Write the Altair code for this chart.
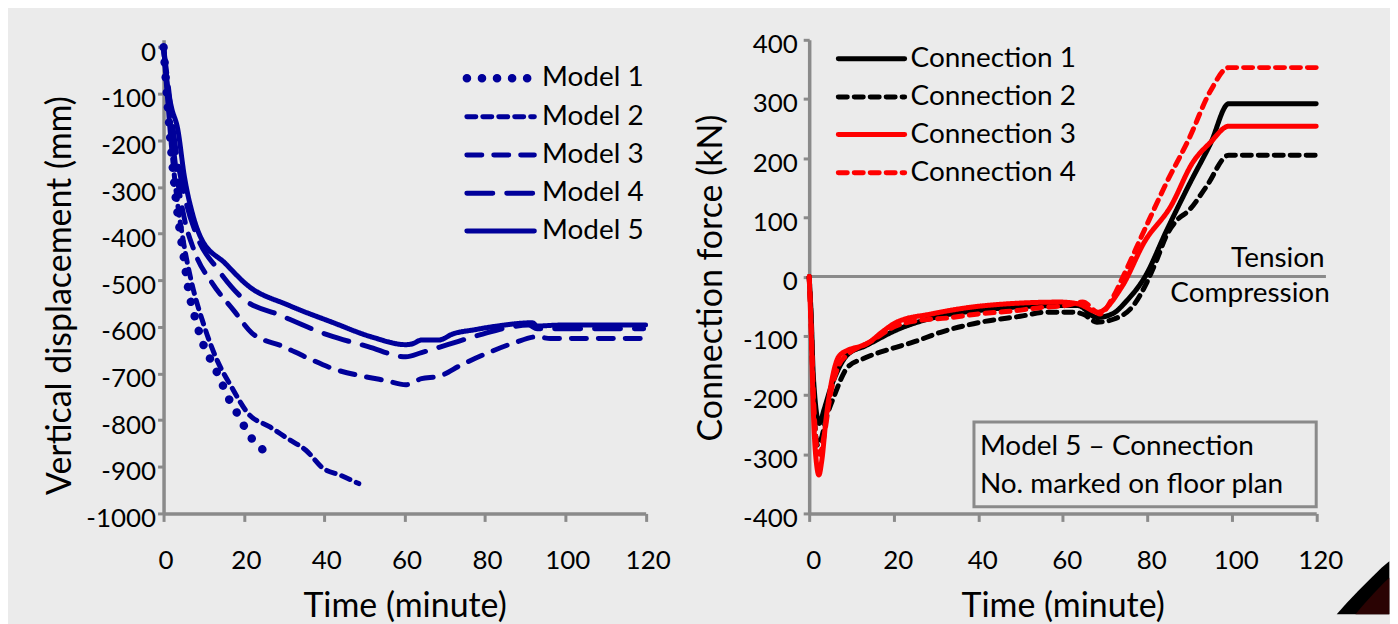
import altair as alt
import pandas as pd

BG = "#ebebeb"
AX = "#8a8a8a"
BLUE = "#00009a"
FONT = "Lato"

# ---------------- Left panel: vertical displacement ----------------
m1_t = [0, 1, 2, 3, 4, 5, 6, 8, 10, 12, 14, 16, 18, 20, 22, 24, 27]
m1_v = [0, -120, -230, -320, -390, -448, -510, -585, -640, -675, -710, -750, -780, -812, -840, -858, -878]

m2_t = [0, 1, 2, 3, 5, 7, 10, 13, 17, 21, 26.6, 31, 35.5, 39.7, 44, 48.6]
m2_v = [0, -110, -215, -300, -420, -505, -595, -665, -730, -785, -815, -840, -865, -903, -918, -936]

m3_t = [0, 1, 2, 3, 5, 7.7, 12.2, 17.6, 22, 29.8, 36, 42, 49.8, 55.3, 60.3, 64.2, 68.5, 74.2, 80.9, 87.3, 93, 96.3, 119]
m3_v = [0, -90, -180, -255, -360, -438, -507, -566, -613, -642, -667, -689, -706, -715, -724, -711, -706, -681, -655, -634, -621, -625, -625]

m4_t = [0, 1, 2, 3, 5, 8.7, 13.2, 19.9, 28.8, 40.9, 50.9, 60.3, 64.2, 70.7, 78.7, 86.4, 90.8, 93, 119.5]
m4_v = [0, -70, -145, -215, -310, -413, -473, -540, -574, -617, -642, -664, -655, -638, -617, -600, -596, -604, -604]

m5_t = [0, 1, 2, 3.5, 5.2, 7.2, 9.2, 15.4, 21.1, 31, 42, 52, 60.3, 62, 64.2, 68.5, 72, 77.4, 83.1, 91.8, 93, 98.5, 120]
m5_v = [0, -85, -130, -174, -278, -357, -407, -464, -512, -553, -590, -622, -638, -636, -628, -628, -615, -606, -598, -591, -598, -596, -596]

model_names = ["Model 1", "Model 2", "Model 3", "Model 4", "Model 5"]
model_t = [m1_t, m2_t, m3_t, m4_t, m5_t]
model_v = [m1_v, m2_v, m3_v, m4_v, m5_v]
model_dash = [[0.1, 15], [9, 7], [15, 12], [26, 14], [1, 0]]
model_width = [8.5, 5, 5, 5, 5]

# legend layout (data units of the left panel)
legL_x1, legL_x2, legL_tx = 75.5, 92.3, 94.2
legL_rows = [-66.5, -149, -231, -313.4, -394.2]

# ---------------- Right panel: connection force ----------------
c1_t = [0, 0.5, 1, 2.4, 3.5, 5, 6, 9.2, 13.3, 20.7, 29, 41.6, 58.4, 63.6, 68.1, 72, 75, 79.5, 84.6, 89.9, 95, 99.3, 120]
c1_v = [0, -70, -170, -248, -225, -190, -171, -131, -117, -90, -70, -56, -49, -49, -69, -62, -42, 0, 78, 155, 225, 292, 292]

c2_t = [0, 0.5, 1, 2, 2.8, 4, 6, 9.1, 13, 19.3, 24.9, 31.1, 40.6, 50, 56.3, 62.5, 65, 68.1, 72, 76.7, 79.9, 82.3, 84.6, 87, 89.9, 94, 99.3, 120]
c2_v = [0, -80, -200, -285, -275, -240, -200, -153, -138, -122, -110, -94, -77, -67, -60, -60, -64, -77, -72, -49, -10, 29, 70, 95, 112, 152, 205, 205]

c3_t = [0, 0.5, 1, 1.8, 2.3, 3, 4, 5.5, 7, 9.2, 12, 14.4, 17, 20.7, 29, 41.6, 59.4, 63.6, 68.4, 74.1, 79.3, 85.6, 90.8, 95, 99.3, 120]
c3_v = [0, -100, -230, -320, -335, -310, -240, -170, -135, -124, -118, -110, -95, -77, -63, -49, -43, -46, -60, -16, 58, 119, 193, 227, 254, 254]

c4_t = [0, 0.5, 1, 2, 2.5, 3.5, 5, 7, 9.2, 14, 20.7, 26, 32.7, 40, 48.3, 55, 60.5, 64.7, 68.9, 71.5, 74.1, 79.3, 84.6, 89.9, 95, 99.3, 120]
c4_v = [0, -90, -200, -295, -300, -270, -200, -150, -131, -112, -83, -74, -70, -63, -58, -52, -49, -43, -63, -40, -3, 78, 159, 233, 314, 353, 353]

conn_names = ["Connection 1", "Connection 2", "Connection 3", "Connection 4"]
conn_t = [c1_t, c2_t, c3_t, c4_t]
conn_v = [c1_v, c2_v, c3_v, c4_v]
conn_color = ["#000000", "#000000", "#ff0000", "#ff0000"]
conn_dash = [[1, 0], [9, 7], [1, 0], [9, 7]]
draw_order = [1, 0, 3, 2]

legR_x1, legR_x2, legR_tx = 6.9, 22.6, 24.0
legR_rows = [367.8, 303.4, 239.9, 175.3]

box_x = [39.0, 120.0]
box_y = [-245.5, -388.6]
box_lines = ["Model 5 \u2013 Connection", "No. marked on floor plan"]
box_text_x = 40.4
box_text_y = [-302, -366]

zero_line_x = [0, 122.3]
tension_pos = (122.0, 16)
compression_pos = (123.2, -43)

x_ticks = [0, 20, 40, 60, 80, 100, 120]

LABEL_EXPR = "'' + datum.value"

# slide decoration shapes (unit-square symbol paths)
DECO_OUTER = ("M -1.15 1 L -0.75 0.55 L -0.3 0.08 L 0.2 -0.42 L 0.65 -0.86 "
              "L 0.96 -1.12 L 0.96 1 Z")
DECO_INNER = ("M -0.396 1 L -0.104 0.656 L 0.312 0.192 L 0.744 -0.256 L 0.96 -0.464 "
              "L 0.96 1 Z")


def x_axis(offset):
    return alt.Axis(values=x_ticks, title="Time (minute)", grid=False, labelExpr=LABEL_EXPR,
                    labelFont=FONT, labelFontSize=26, labelColor="black",
                    labelBaseline="alphabetic", labelPadding=47, labelOffset=offset,
                    labelFlush=False, labelOverlap=False,
                    tickSize=8, tickColor=AX, tickWidth=3,
                    domainColor=AX, domainWidth=3.5,
                    titleFont=FONT, titleFontSize=34, titleFontWeight="normal",
                    titleColor="black", titleBaseline="alphabetic", titleY=103)


def y_axis(values, title, pad, tx, ty):
    return alt.Axis(values=values, title=title, grid=False, labelExpr=LABEL_EXPR,
                    labelFont=FONT, labelFontSize=26, labelColor="black",
                    labelPadding=pad, labelOffset=5, labelFlush=False, labelOverlap=False,
                    tickSize=6, tickColor=AX, tickWidth=3,
                    domainColor=AX, domainWidth=3.5,
                    titleFont=FONT, titleFontSize=34, titleFontWeight="normal",
                    titleColor="black", titleBaseline="alphabetic", titleAlign="center",
                    titleX=tx, titleY=ty)


xL = alt.Scale(domain=[0, 120], nice=False, zero=False)
yL = alt.Scale(domain=[-1000, 16], nice=False, zero=False)
xR = alt.Scale(domain=[0, 120], nice=False, zero=False)
yR = alt.Scale(domain=[-400, 400], nice=False, zero=False)

# ---------- left layers ----------
left_layers = []
for i, name in enumerate(model_names):
    df = pd.DataFrame({"t": model_t[i], "v": model_v[i]})
    enc = dict(x=alt.X("t:Q", scale=xL, axis=x_axis(2)),
               y=alt.Y("v:Q", scale=yL,
                       axis=y_axis(list(range(-1000, 1, 100)), "Vertical displacement (mm)", 2, -93, 256)))
    left_layers.append(
        alt.Chart(df).mark_line(color=BLUE, strokeWidth=model_width[i], strokeDash=model_dash[i],
                                strokeCap="round", strokeJoin="round", interpolate="monotone")
        .encode(**enc)
    )
    ldf = pd.DataFrame({"x1": [legL_x1], "x2": [legL_x2], "y": [legL_rows[i]]})
    left_layers.append(
        alt.Chart(ldf).mark_rule(color=BLUE, strokeWidth=model_width[i], strokeDash=model_dash[i],
                                 strokeCap="round")
        .encode(x=alt.X("x1:Q", scale=xL), x2="x2:Q", y=alt.Y("y:Q", scale=yL))
    )
legL_df = pd.DataFrame({"x": [legL_tx] * 5, "y": legL_rows, "label": model_names})
left_layers.append(
    alt.Chart(legL_df).mark_text(align="left", baseline="middle", font=FONT, fontSize=28, color="black")
    .encode(x=alt.X("x:Q", scale=xL), y=alt.Y("y:Q", scale=yL), text="label:N")
)
left = alt.layer(*left_layers).properties(width=483.5, height=475)

# ---------- right layers ----------
right_layers = []
zdf = pd.DataFrame({"x1": [zero_line_x[0]], "x2": [zero_line_x[1]], "y": [0]})
right_layers.append(
    alt.Chart(zdf).mark_rule(color=AX, strokeWidth=3)
    .encode(x=alt.X("x1:Q", scale=xR, axis=x_axis(4)), x2="x2:Q",
            y=alt.Y("y:Q", scale=yR,
                    axis=y_axis(list(range(-400, 401, 100)), "Connection force (kN)", 6, -87.7, 238.5)))
)
for i in draw_order:
    df = pd.DataFrame({"t": conn_t[i], "v": conn_v[i]})
    right_layers.append(
        alt.Chart(df).mark_line(color=conn_color[i], strokeWidth=5, strokeDash=conn_dash[i],
                                strokeCap="round", strokeJoin="round", interpolate="monotone")
        .encode(x=alt.X("t:Q", scale=xR), y=alt.Y("v:Q", scale=yR))
    )
for i in range(4):
    ldf = pd.DataFrame({"x1": [legR_x1], "x2": [legR_x2], "y": [legR_rows[i]]})
    right_layers.append(
        alt.Chart(ldf).mark_rule(color=conn_color[i], strokeWidth=5, strokeDash=conn_dash[i],
                                 strokeCap="round")
        .encode(x=alt.X("x1:Q", scale=xR), x2="x2:Q", y=alt.Y("y:Q", scale=yR))
    )
legR_df = pd.DataFrame({"x": [legR_tx] * 4, "y": legR_rows, "label": conn_names})
right_layers.append(
    alt.Chart(legR_df).mark_text(align="left", baseline="middle", font=FONT, fontSize=28, color="black")
    .encode(x=alt.X("x:Q", scale=xR), y=alt.Y("y:Q", scale=yR), text="label:N")
)
tc_df = pd.DataFrame({"x": [tension_pos[0], compression_pos[0]],
                      "y": [tension_pos[1], compression_pos[1]],
                      "label": ["Tension", "Compression"]})
right_layers.append(
    alt.Chart(tc_df).mark_text(align="right", baseline="alphabetic", font=FONT, fontSize=28, color="black")
    .encode(x=alt.X("x:Q", scale=xR), y=alt.Y("y:Q", scale=yR), text="label:N")
)
bdf = pd.DataFrame({"x1": [box_x[0]], "x2": [box_x[1]], "y1": [box_y[0]], "y2": [box_y[1]]})
right_layers.append(
    alt.Chart(bdf).mark_rect(fill=BG, fillOpacity=0, stroke=AX, strokeWidth=3)
    .encode(x=alt.X("x1:Q", scale=xR), x2="x2:Q", y=alt.Y("y1:Q", scale=yR), y2="y2:Q")
)
btdf = pd.DataFrame({"x": [box_text_x] * 2, "y": box_text_y, "label": box_lines})
right_layers.append(
    alt.Chart(btdf).mark_text(align="left", baseline="alphabetic", font=FONT, fontSize=28, color="black")
    .encode(x=alt.X("x:Q", scale=xR), y=alt.Y("y:Q", scale=yR), text="label:N")
)
# slide decoration in the bottom-right corner
deco = pd.DataFrame({"k": [0]})
for shape, col in [(DECO_OUTER, "#000000"), (DECO_INNER, "#2a0303")]:
    right_layers.append(
        alt.Chart(deco).mark_point(shape=shape, filled=True, fill=col, stroke=None, opacity=1,
                                   size=2500)
        .encode(x=alt.value(557.8), y=alt.value(551))
    )
right = alt.layer(*right_layers).properties(width=508.5, height=475)

chart = (
    alt.hconcat(left, right, spacing=163.5, bounds="flush")
    .properties(background=BG, padding={"left": 35, "top": 23, "right": 0, "bottom": 0})
    .configure_view(stroke=None)
)

chart.save("out.html", embed_options={"renderer": "svg", "actions": False})
